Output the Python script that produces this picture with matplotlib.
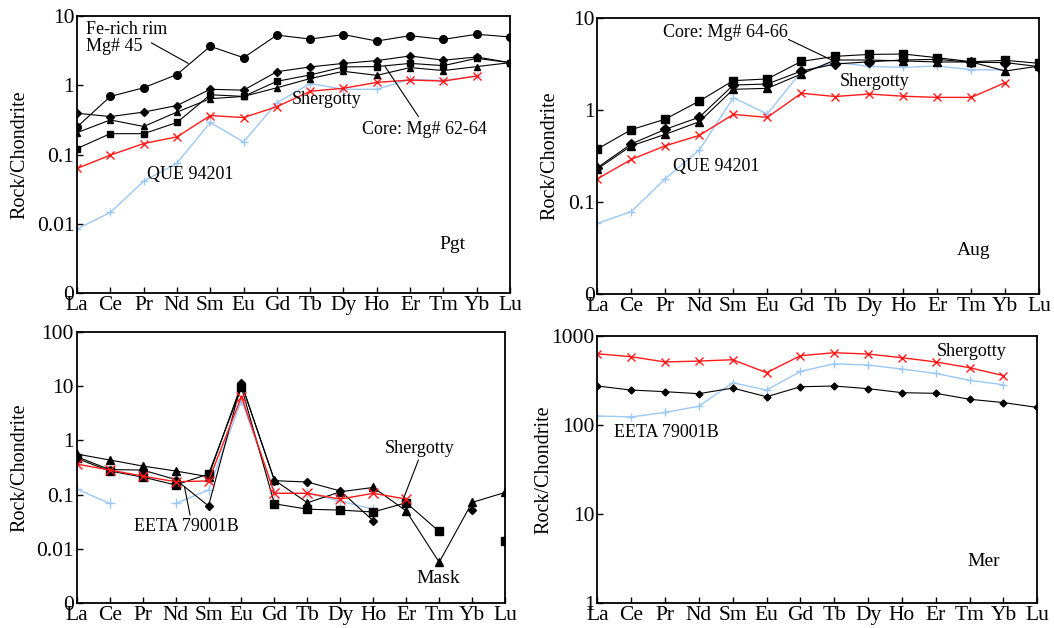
import numpy as np
import matplotlib
matplotlib.use("Agg")
import matplotlib.pyplot as plt
from matplotlib.ticker import FixedLocator, FixedFormatter

plt.rcParams['font.family'] = ['Liberation Serif', 'DejaVu Serif']

nan = np.nan
elements = ['La', 'Ce', 'Pr', 'Nd', 'Sm', 'Eu', 'Gd', 'Tb', 'Dy', 'Ho', 'Er', 'Tm', 'Yb', 'Lu']

# Pgt (pigeonite)
pgt_rim = [0.25, 0.69, 0.92, 1.43, 3.65, 2.5, 5.3, 4.65, 5.4, 4.35, 5.2, 4.6, 5.45, 4.98]
pgt_core_d = [0.395, 0.353, 0.41, 0.51, 0.875, 0.85, 1.57, 1.84, 2.07, 2.27, 2.65, 2.3, 2.56, 2.12]
pgt_core_t = [0.207, 0.316, 0.254, 0.41, 0.64, 0.69, 0.92, 1.25, 1.59, 1.39, 1.8, 1.63, 1.86, 2.12]
pgt_core_s = [0.122, 0.2, 0.2, 0.29, 0.73, 0.69, 1.14, 1.41, 1.84, 1.86, 2.07, 1.92, 2.45, 2.12]
pgt_sher = [0.063, 0.098, 0.144, 0.18, 0.365, 0.342, 0.49, 0.82, 0.905, 1.10, 1.19, 1.15, 1.36, nan]
pgt_que = [0.0084, 0.0146, 0.041, 0.075, 0.29, 0.152, 0.56, 1.06, 0.875, 0.875, 1.22, 1.17, 1.36, nan]

# Aug (augite)
aug_core_s = [0.378, 0.615, 0.80, 1.26, 2.1, 2.19, 3.4, 3.86, 4.05, 4.09, 3.73, 3.37, 3.49, 3.24]
aug_core_d = [0.237, 0.43, 0.62, 0.84, 1.88, 1.93, 2.67, 3.18, 3.37, 3.52, 3.58, 3.32, 3.3, 2.98]
aug_core_t = [0.229, 0.41, 0.547, 0.75, 1.69, 1.73, 2.48, 3.52, 3.52, 3.44, 3.35, 3.35, 2.67, 3.03]
aug_sher = [0.179, 0.292, 0.41, 0.533, 0.90, 0.837, 1.53, 1.41, 1.50, 1.42, 1.38, 1.38, 2.0, nan]
aug_que = [0.0587, 0.079, 0.18, 0.369, 1.37, 0.91, 2.63, 3.32, 3.0, 2.93, 3.03, 2.76, 2.74, nan]

# Mask (maskelynite)
mask_s = [0.466, 0.273, 0.211, 0.151, 0.24, 9.4, 0.068, 0.054, 0.052, 0.048, 0.071, 0.021, nan, 0.0138]
mask_t = [0.56, 0.435, 0.337, 0.273, 0.214, 10.9, 0.186, 0.071, 0.113, 0.136, 0.05, 0.0057, 0.072, 0.11]
mask_d = [0.5, 0.29, 0.284, 0.19, 0.062, 11.2, 0.181, 0.171, 0.117, 0.033, nan, nan, 0.052, nan]
mask_sher = [0.366, 0.284, 0.22, 0.173, 0.179, 6.4, 0.106, 0.106, 0.083, 0.106, 0.083, nan, nan, nan]
mask_eeta = [0.127, 0.069, nan, 0.069, 0.122, 5.5, 0.106, 0.106, 0.076, 0.054, nan, nan, nan, nan]

# Mer (merrillite)
mer_sher = [628, 582, 508, 520, 538, 385, 597, 645, 623, 567, 508, 438, 357, nan]
mer_eeta = [126, 123, 138, 162, 297, 246, 398, 485, 469, 423, 378, 316, 282, nan]
mer_d = [273, 246, 236, 224, 259, 207, 268, 273, 255, 230, 226, 194, 178, 157]

RED = '#ff1a1a'
BLUE = '#9cc8f5'
x = np.arange(len(elements))

fig = plt.figure(figsize=(10.54, 6.28), dpi=100)
ax_pgt = fig.add_axes([0.0731, 0.5334, 0.4108, 0.4411])
ax_aug = fig.add_axes([0.5667, 0.5318, 0.4194, 0.4390])
ax_mask = fig.add_axes([0.0728, 0.0393, 0.4064, 0.4325])
ax_mer = fig.add_axes([0.5667, 0.0393, 0.4175, 0.4261])


def setup(ax, ticks, labels, labx):
    ax.set_yscale('log')
    ax.set_xlim(0, len(elements) - 1)
    ax.set_ylim(ticks[0], ticks[-1])
    ax.yaxis.set_major_locator(FixedLocator(ticks))
    ax.yaxis.set_major_formatter(FixedFormatter(labels))
    ax.yaxis.set_minor_locator(FixedLocator([]))
    ax.set_xticks(x)
    ax.set_xticklabels(elements)
    ax.tick_params(direction='in', length=4, width=1, labelsize=15.5, pad=2)
    for s in ax.spines.values():
        s.set_linewidth(1.3)
    ax.set_ylabel('Rock/Chondrite', fontsize=14.5)
    ax.yaxis.set_label_coords(labx, 0.5)


def black(ax, y, m, ms):
    ax.plot(x, y, color='k', lw=0.8, marker=m, ms=ms, mfc='k', mec='k')


def leader(ax, p0, p1):
    ax.annotate('', xy=p1, xytext=p0,
                arrowprops=dict(arrowstyle='-', lw=0.8, color='k', shrinkA=0, shrinkB=0))


# Pgt panel
setup(ax_pgt, [0.001, 0.01, 0.1, 1, 10], ['0', '0.01', '0.1', '1', '10'], -0.11)
ax_pgt.plot(x, pgt_que, color=BLUE, lw=1, marker='+', ms=6)
ax_pgt.plot(x, pgt_sher, color=RED, lw=1, marker='x', ms=6)
black(ax_pgt, pgt_core_s, 's', 4.5)
black(ax_pgt, pgt_core_t, '^', 5)
black(ax_pgt, pgt_core_d, 'D', 4.5)
black(ax_pgt, pgt_rim, 'o', 5.5)
ax_pgt.text(0.26, 8.6, 'Fe-rich rim\nMg# 45', fontsize=13, va='top', linespacing=1.0)
leader(ax_pgt, (2.23, 4.1), (3.34, 2.07))
ax_pgt.text(6.44, 0.62, 'Shergotty', fontsize=13, va='center')
ax_pgt.text(8.55, 0.227, 'Core: Mg# 62-64', fontsize=13, va='center')
leader(ax_pgt, (9.25, 1.86), (10.25, 0.353))
ax_pgt.text(2.1, 0.051, 'QUE 94201', fontsize=13, va='center')
ax_pgt.text(10.88, 0.0051, 'Pgt', fontsize=14, va='center')

# Aug panel
setup(ax_aug, [0.01, 0.1, 1, 10], ['0', '0.1', '1', '10'], -0.085)
ax_aug.plot(x, aug_que, color=BLUE, lw=1, marker='+', ms=6)
ax_aug.plot(x, aug_sher, color=RED, lw=1, marker='x', ms=6)
black(ax_aug, aug_core_t, '^', 5.5)
black(ax_aug, aug_core_d, 'D', 5)
black(ax_aug, aug_core_s, 's', 5.5)
ax_aug.text(1.94, 7.05, 'Core: Mg# 64-66', fontsize=13, va='center')
leader(ax_aug, (5.62, 5.9), (6.89, 3.52))
ax_aug.text(7.12, 2.08, 'Shergotty', fontsize=13, va='center')
ax_aug.text(2.24, 0.243, 'QUE 94201', fontsize=13, va='center')
ax_aug.text(10.57, 0.030, 'Aug', fontsize=14, va='center')

# Mask panel
setup(ax_mask, [0.001, 0.01, 0.1, 1, 10, 100], ['0', '0.01', '0.1', '1', '10', '100'], -0.11)
ax_mask.plot(x, mask_eeta, color=BLUE, lw=1, marker='+', ms=7)
black(ax_mask, mask_s, 's', 5.5)
black(ax_mask, mask_t, '^', 5.5)
black(ax_mask, mask_d, 'D', 4.5)
ax_mask.plot(x, mask_sher, color=RED, lw=1, marker='x', ms=7)
ax_mask.text(9.36, 0.71, 'Shergotty', fontsize=13, va='center')
leader(ax_mask, (10.37, 0.435), (9.92, 0.086))
ax_mask.text(1.74, 0.0265, 'EETA 79001B', fontsize=13, va='center')
leader(ax_mask, (3.44, 0.042), (3.27, 0.14))
ax_mask.text(10.3, 0.0029, 'Mask', fontsize=14, va='center')

# Mer panel
setup(ax_mer, [1, 10, 100, 1000], ['1', '10', '100', '1000'], -0.1)
ax_mer.plot(x, mer_eeta, color=BLUE, lw=1, marker='+', ms=6)
ax_mer.plot(x, mer_sher, color=RED, lw=1, marker='x', ms=6)
black(ax_mer, mer_d, 'D', 3.5)
ax_mer.text(10.03, 661, 'Shergotty', fontsize=13, va='center')
ax_mer.text(0.49, 82, 'EETA 79001B', fontsize=13, va='center')
ax_mer.text(10.94, 2.93, 'Mer', fontsize=14, va='center')

fig.savefig('out.png', dpi=100)
